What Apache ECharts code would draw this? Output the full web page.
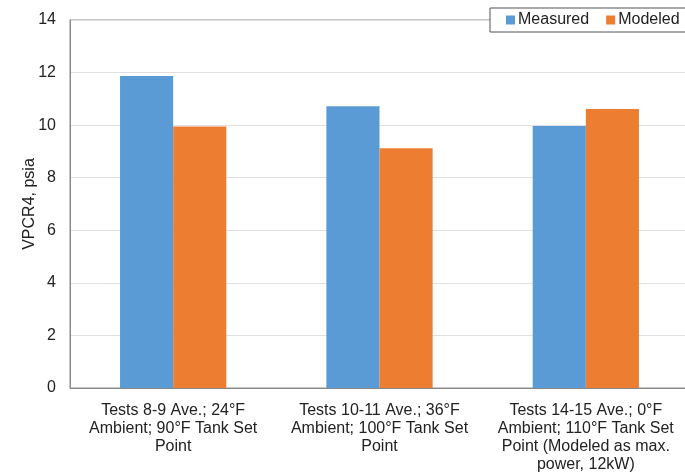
<!DOCTYPE html>
<html>
<head>
<meta charset="utf-8">
<script src="https://cdn.jsdelivr.net/npm/echarts@6/dist/echarts.min.js"></script>
<style>
html,body{margin:0;padding:0;background:#fff;}
#chart{width:685px;height:473px;}
</style>
</head>
<body>
<div id="chart"></div>
<script>
var categories = [
  "Tests 8-9 Ave.; 24\u00B0F\nAmbient; 90\u00B0F Tank Set\nPoint",
  "Tests 10-11 Ave.; 36\u00B0F\nAmbient; 100\u00B0F Tank Set\nPoint",
  "Tests 14-15 Ave.; 0\u00B0F\nAmbient; 110\u00B0F Tank Set\nPoint (Modeled as max.\npower, 12kW)"
];
var measured = [11.87, 10.72, 9.97];
var modeled = [9.95, 9.12, 10.61];
var yTicks = [0, 2, 4, 6, 8, 10, 12, 14];
var seriesNames = ["Measured", "Modeled"];

var chart = echarts.init(document.getElementById('chart'), null, {renderer: 'canvas'});
var font = 'Liberation Sans, Arial, sans-serif';
chart.setOption({
  animation: false,
  backgroundColor: '#fff',
  grid: {left: 70, right: -4, top: 20, bottom: 85, outerBoundsMode: 'none', containLabel: false,
         show: true, borderColor: '#8a8a8a', borderWidth: 1, backgroundColor: 'transparent'},
  legend: {
    data: seriesNames,
    orient: 'horizontal',
    left: 490, top: 8, width: 240,
    padding: [4, 12, 4, 16],
    itemWidth: 9, itemHeight: 9, itemGap: 17,
    icon: 'rect',
    backgroundColor: '#fff',
    borderColor: '#555', borderWidth: 1, borderRadius: 0,
    textStyle: {fontFamily: font, fontSize: 16, color: '#222', padding: [0, 0, 0, -2]}
  },
  xAxis: {
    type: 'category',
    data: categories,
    axisLine: {lineStyle: {color: '#8a8a8a', width: 1}},
    axisTick: {show: false},
    axisLabel: {interval: 0, fontFamily: font, fontSize: 16, color: '#222', lineHeight: 18, margin: 14, align: 'center'}
  },
  yAxis: {
    type: 'value',
    min: yTicks[0], max: yTicks[yTicks.length - 1], interval: 2,
    name: 'VPCR4, psia', nameLocation: 'middle', nameGap: 32, nameMoveOverlap: false,
    nameTextStyle: {fontFamily: font, fontSize: 16, color: '#222'},
    axisLine: {show: true, lineStyle: {color: '#8a8a8a', width: 1}},
    axisTick: {show: false},
    splitLine: {lineStyle: {color: '#e0e0e0', width: 1}},
    axisLabel: {fontFamily: font, fontSize: 16, color: '#222', margin: 14}
  },
  series: [
    {name: seriesNames[0], type: 'bar', data: measured, barGap: '0%', barCategoryGap: '48.5%',
     itemStyle: {color: '#5B9BD5'}},
    {name: seriesNames[1], type: 'bar', data: modeled, barGap: '0%', barCategoryGap: '48.5%',
     itemStyle: {color: '#ED7D31'}}
  ]
});
</script>
</body>
</html>
